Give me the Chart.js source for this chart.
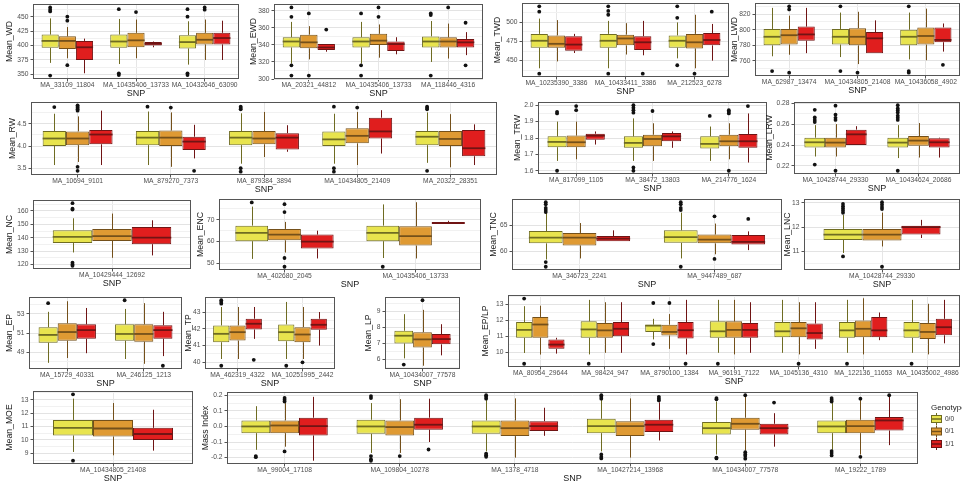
<!doctype html>
<html>
<head>
<meta charset="utf-8">
<title>SNP genotype box plots</title>
<script src="https://cdn.jsdelivr.net/npm/chart.js@4/dist/chart.umd.min.js"></script>
<style>
  body { margin: 0; background: #fff; }
  #fig { position: relative; width: 962px; height: 484px; overflow: hidden; }
</style>
</head>
<body>
<div id="fig"></div>
<script>
// ---- data: per panel, SNP names, box stats [lo, q1, median, q3, hi] (rows = genotype), outliers, y tick labels
const GENOTYPES = ['0/0', '0/1', '1/1'];

const WD_snps = ['MA_33109_11804', 'MA_10435406_13733', 'MA_10432646_63090'];
const WD_box = [
  [[370, 396, 408, 419, 447], [368, 396, 407, 419, 446], [367, 395, 406, 418, 442]],
  [[378, 394, 408, 416, 432], [378, 397, 409, 422, 445], [375, 402, 410, 422, 445]],
  [[352, 375, 397, 408, 412], [397, 400, 403, 406, 407], [375, 402, 413, 422, 443]]
];
const WD_out = [
  [[466, 462, 459, 348], [463, 352, 349], [463, 450, 352, 349]],
  [[450, 443, 366], [458], [466, 462]],
  [[], [], []]
];
const WD_ticks = ['350', '375', '400', '425', '450'];

const EWD_snps = ['MA_20321_44812', 'MA_10435406_13733', 'MA_118446_4316'];
const EWD_box = [
  [[318, 337, 344, 349, 367], [318, 337, 344, 349, 367], [320, 337, 344, 350, 368]],
  [[323, 336, 343, 352, 362], [325, 340, 345, 353, 364], [324, 337, 344, 349, 365]],
  [[332, 334, 337, 341, 341], [329, 333, 341, 344, 349], [328, 337, 343, 347, 355]]
];
const EWD_out = [
  [[384, 373, 316, 304], [377, 316, 304], [377, 375, 304]],
  [[377, 304], [384, 373], [384]],
  [[358], [], [366, 316]]
];
const EWD_ticks = ['300', '320', '340', '360', '380'];

const TWD_snps = ['MA_10235390_3386', 'MA_10433411_3386', 'MA_212523_6278'];
const TWD_box = [
  [[440, 467, 476, 485, 505], [440, 467, 476, 485, 502], [453, 467, 476, 483, 500]],
  [[449, 467, 472, 483, 503], [458, 470, 479, 484, 499], [440, 466, 474, 485, 510]],
  [[460, 463, 471, 482, 485], [457, 464, 474, 482, 502], [450, 470, 477, 486, 498]]
];
const TWD_out = [
  [[521, 514, 433], [521, 515, 510, 433], [521, 506, 444]],
  [[], [], [433]],
  [[], [433], [514]]
];
const TWD_ticks = ['450', '475', '500'];

const LWD_snps = ['MA_62987_13474', 'MA_10434805_21408', 'MA_10436058_4902'];
const LWD_box = [
  [[766, 780, 791, 801, 828], [765, 781, 791, 801, 822], [762, 780, 791, 800, 822]],
  [[768, 781, 793, 801, 818], [756, 780, 791, 802, 823], [761, 781, 792, 803, 827]],
  [[770, 786, 794, 804, 828], [770, 770, 789, 797, 812], [772, 784, 787, 803, 808]]
];
const LWD_out = [
  [[747], [830, 747], [830, 747, 745]],
  [[830, 826, 745], [745], []],
  [[], [], [755]]
];
const LWD_ticks = ['760', '780', '800', '820'];

const RW_snps = ['MA_10694_9101', 'MA_879270_7373', 'MA_879384_3894', 'MA_10434805_21409', 'MA_20322_28351'];
const RW_box = [
  [[3.57, 4.0, 4.17, 4.34, 4.73], [3.57, 4.02, 4.19, 4.34, 4.78], [3.6, 4.02, 4.19, 4.34, 4.74], [3.6, 4.0, 4.15, 4.33, 4.73], [3.62, 4.02, 4.21, 4.34, 4.76]],
  [[3.64, 4.02, 4.17, 4.33, 4.67], [3.53, 4.0, 4.19, 4.35, 4.76], [3.75, 4.04, 4.17, 4.34, 4.77], [3.57, 4.06, 4.23, 4.4, 4.77], [3.52, 4.0, 4.16, 4.34, 4.72]],
  [[3.57, 4.04, 4.26, 4.36, 4.8], [3.72, 3.91, 4.1, 4.21, 4.48], [3.87, 3.92, 4.19, 4.29, 4.47], [3.83, 4.17, 4.33, 4.64, 4.81], [3.57, 3.77, 3.95, 4.36, 4.49]]
];
const RW_out = [
  [[4.88], [4.89], [4.89, 4.86, 4.83, 3.5, 3.42], [4.89, 3.5, 3.42], [4.89, 4.86, 4.83, 3.44]],
  [[4.92, 4.89, 4.86, 4.83, 4.8, 3.53, 3.44], [4.87], [], [4.87], []],
  [[], [3.44], [], [], []]
];
const RW_ticks = ['3.5', '4.0', '4.5'];

const TRW_snps = ['MA_817099_1105', 'MA_38472_13803', 'MA_214776_1624'];
const TRW_box = [
  [[1.66, 1.744, 1.776, 1.81, 1.9], [1.66, 1.74, 1.77, 1.81, 1.92], [1.66, 1.736, 1.764, 1.81, 1.87]],
  [[1.67, 1.744, 1.774, 1.815, 1.9], [1.66, 1.75, 1.794, 1.82, 1.89], [1.67, 1.75, 1.78, 1.82, 1.89]],
  [[1.76, 1.79, 1.814, 1.826, 1.84], [1.74, 1.78, 1.81, 1.83, 1.84], [1.65, 1.74, 1.78, 1.824, 1.95]]
];
const TRW_out = [
  [[1.96, 1.95, 1.6], [2.0, 1.985, 1.97, 1.955, 1.62, 1.6], [1.935]],
  [[1.995, 1.97], [1.965], [1.97, 1.96, 1.95, 1.6]],
  [[], [], [1.995]]
];
const TRW_ticks = ['1.6', '1.7', '1.8', '1.9', '2.0'];

const LRW_snps = ['MA_10428744_29330', 'MA_10434624_20686'];
const LRW_box = [
  [[0.229, 0.2375, 0.2426, 0.247, 0.259], [0.2275, 0.2375, 0.2423, 0.247, 0.259]],
  [[0.229, 0.2375, 0.2423, 0.247, 0.26], [0.228, 0.2394, 0.2442, 0.2486, 0.261]],
  [[0.24, 0.24, 0.2502, 0.2547, 0.258], [0.228, 0.2375, 0.2426, 0.2464, 0.247]]
];
const LRW_out = [
  [[0.2736, 0.2663, 0.264, 0.262, 0.2213], [0.278, 0.275, 0.273, 0.271, 0.268, 0.266, 0.264, 0.2154]],
  [[0.2776, 0.269, 0.266, 0.264, 0.2154], []],
  [[], []]
];
const LRW_ticks = ['0.22', '0.24', '0.26', '0.28'];

const NC_snps = ['MA_10429444_12692'];
const NC_box = [[[129, 136, 140.7, 145.5, 154.5]], [[125, 137.6, 141.2, 146.5, 158]], [[126.8, 135.2, 140, 148, 153]]];
const NC_out = [[[165.8, 161.7, 161, 121.4, 120, 119]], [[]], [[]]];
const NC_ticks = ['120', '130', '140', '150', '160'];

const ENC_snps = ['MA_402680_2045', 'MA_10435406_13733'];
const ENC_box = [
  [[52.1, 60.2, 64, 67.3, 76], [52.5, 60.2, 64, 67.3, 77]],
  [[55, 60.6, 63.2, 65.8, 69], [52.3, 58.2, 62.5, 67, 78]],
  [[52.3, 56.8, 60, 63.2, 65], [68, 68, 68.5, 69, 69.5]]
];
const ENC_out = [[[77.9], [48.5]], [[77.1, 73.5, 52.5, 48.5], []], [[], []]];
const ENC_ticks = ['50', '60', '70'];

const TNC_snps = ['MA_346723_2241', 'MA_9447489_687'];
const TNC_box = [
  [[58.4, 61.5, 62.6, 63.85, 67.4], [58.6, 61.6, 62.7, 64.0, 67.4]],
  [[58.6, 61.1, 62.6, 63.5, 65.4], [59.4, 61.5, 62.2, 63.2, 65.3]],
  [[61.9, 61.9, 62.4, 62.9, 64], [60.2, 61.3, 61.8, 63.1, 63.8]]
];
const TNC_out = [[[69.4, 69, 68.3, 67.9, 67.5, 57.9, 57], [69.4, 69, 68.3, 67.9, 57]], [[], [66.7, 58.5]], [[], [66.2]]];
const TNC_ticks = ['60', '65'];

const LNC_snps = ['MA_10428744_29330'];
const LNC_box = [[[10.93, 11.47, 11.69, 11.92, 12.5]], [[11.2, 11.45, 11.69, 11.92, 12.6]], [[11.55, 11.69, 12.0, 12.06, 12.3]]];
const LNC_out = [[[12.96, 12.86, 12.77, 12.68, 12.59, 10.79]], [[13.03, 12.93, 12.83, 12.75, 10.36]], [[]]];
const LNC_ticks = ['11', '12', '13'];

const EP_snps = ['MA_15729_40331', 'MA_246125_1213'];
const EP_box = [
  [[47.9, 50.0, 50.8, 51.6, 53.2], [48.3, 50.2, 50.9, 51.9, 53.5]],
  [[48.4, 50.2, 51.1, 52.0, 54.3], [47.8, 50.1, 50.9, 51.9, 54.1]],
  [[48.9, 50.4, 51.3, 51.9, 53.6], [48.6, 50.4, 51.3, 51.8, 53.2]]
];
const EP_out = [[[54.1], [54.4]], [[], []], [[], [47.6]]];
const EP_ticks = ['49', '51', '53'];

const TP_snps = ['MA_462319_4322', 'MA_10251995_2442'];
const TP_box = [
  [[40.2, 41.2, 41.7, 42.2, 43.3], [40.2, 41.26, 41.8, 42.26, 43.6]],
  [[40.2, 41.3, 41.8, 42.2, 43.3], [40.2, 41.2, 41.66, 42.1, 43.3]],
  [[41.4, 41.96, 42.3, 42.6, 43.3], [41.0, 41.94, 42.24, 42.6, 43.0]]
];
const TP_out = [[[43.7, 43.6, 43.5, 39.8], [39.8]], [[], [40.0]], [[40.15], []]];
const TP_ticks = ['40', '41', '42', '43'];

const LP_snps = ['MA_10434007_77578'];
const LP_box = [[[6.06, 7.0, 7.48, 7.79, 8.83]], [[5.6, 6.74, 7.25, 7.7, 9.1]], [[6.25, 6.94, 7.27, 7.58, 8.2]]];
const LP_out = [[[5.67]], [[9.7]], [[]]];
const LP_ticks = ['6', '7', '8', '9'];

const EPLP_snps = ['MA_80954_29644', 'MA_98424_947', 'MA_8790100_1384', 'MA_96191_7122', 'MA_1045136_4310', 'MA_122136_11653', 'MA_10435002_4986'];
const EPLP_box = [
  [[9.94, 10.9, 11.4, 11.9, 12.9], [9.85, 10.9, 11.43, 11.94, 13.3], [10.8, 11.27, 11.67, 11.73, 12.1], [9.95, 10.9, 11.31, 11.94, 13.3], [9.95, 10.94, 11.31, 11.9, 13.3], [9.95, 10.9, 11.37, 11.9, 13.3], [9.95, 10.9, 11.37, 11.9, 13.3]],
  [[9.84, 10.9, 11.74, 12.22, 12.93], [9.95, 10.9, 11.37, 11.84, 13.15], [10.2, 11.04, 11.27, 11.73, 12.4], [9.85, 10.9, 11.4, 11.94, 13.3], [9.85, 10.94, 11.5, 11.9, 13.15], [9.85, 10.94, 11.47, 12.0, 13.4], [9.85, 10.83, 11.27, 11.84, 13.05]],
  [[9.9, 10.2, 10.47, 10.79, 10.9], [9.95, 11.0, 11.47, 11.9, 13.15], [9.85, 10.85, 11.38, 11.9, 13.3], [9.95, 10.9, 11.4, 11.84, 13.15], [10.2, 10.79, 11.2, 11.8, 13.15], [10.75, 10.94, 11.37, 12.22, 12.5], [10.55, 11.06, 11.57, 12.1, 13.3]]
];
const EPLP_out = [
  [[13.38, 9.26], [9.26], [13.1, 10.5], [9.26], [], [9.26], [9.26]],
  [[], [], [13.1], [], [9.26], [], []],
  [[], [], [9.26], [], [], [], []]
];
const EPLP_ticks = ['10', '11', '12', '13'];

const MOE_snps = ['MA_10434805_21408'];
const MOE_box = [[[9.1, 10.33, 10.9, 11.49, 13.08]], [[8.85, 10.25, 10.85, 11.49, 12.75]], [[9.2, 10.0, 10.44, 10.9, 12.25]]];
const MOE_out = [[[13.4, 8.45]], [[]], [[]]];
const MOE_ticks = ['9', '10', '11', '12', '13'];

const MI_snps = ['MA_99004_17108', 'MA_109804_10278', 'MA_1378_4718', 'MA_10427214_13968', 'MA_10434007_77578', 'MA_19222_1789'];
const MI_box = [
  [[-0.15, -0.043, 0.0, 0.0385, 0.13], [-0.17, -0.047, 0.0, 0.043, 0.15], [-0.16, -0.047, 0.0, 0.0385, 0.17], [-0.16, -0.043, 0.002, 0.049, 0.17], [-0.18, -0.051, -0.011, 0.028, 0.16], [-0.15, -0.043, 0.0, 0.0385, 0.15]],
  [[-0.13, -0.043, 0.006, 0.0385, 0.15], [-0.17, -0.058, -0.004, 0.0385, 0.175], [-0.2, -0.062, -0.011, 0.0385, 0.18], [-0.2, -0.062, 0.002, 0.034, 0.18], [-0.155, -0.021, 0.017, 0.056, 0.19], [-0.18, -0.043, 0.002, 0.043, 0.17]],
  [[-0.22, -0.058, 0.002, 0.056, 0.19], [-0.1, -0.021, 0.011, 0.056, 0.178], [-0.06, -0.03, 0.002, 0.034, 0.12], [-0.09, -0.036, 0.011, 0.043, 0.155], [-0.13, -0.051, -0.011, 0.017, 0.085], [-0.12, -0.026, 0.0385, 0.06, 0.19]]
];
const MI_out = [
  [[-0.19, -0.197], [0.195, 0.182, -0.19, -0.21, -0.22], [0.2, 0.19, 0.178, -0.175, -0.185, -0.195], [0.2, 0.19, 0.178, -0.18, -0.195, -0.205], [0.182, 0.174, -0.2, -0.205], [0.182, 0.171, 0.16, -0.158, -0.171, -0.186]],
  [[0.183, 0.171, 0.16, -0.16], [-0.19], [], [], [0.2, -0.165, -0.18, -0.19, -0.207], [0.178, -0.195]],
  [[], [-0.148], [], [0.19, 0.178, 0.167], [0.153], [0.2]]
];
const MI_ticks = ['-0.2', '-0.1', '0.0', '0.1', '0.2'];

// ---- look
const FILL = ['#E8E44E', '#DF9A33', '#E01E1E'];
const EDGE = ['#6f6c22', '#74501a', '#701414'];
const FONT = "'Liberation Sans', Arial, sans-serif";
Chart.defaults.font.family = FONT;

// ---- panel placement: L = canvas left, plot = [x0, y0, x1, y1] of the panel frame
const PANELS = [
  { title: 'Mean_WD', snps: WD_snps, box: WD_box, out: WD_out, ticks: WD_ticks, L: 0, plot: [33, 4, 239, 79] },
  { title: 'Mean_EWD', snps: EWD_snps, box: EWD_box, out: EWD_out, ticks: EWD_ticks, L: 244, plot: [274, 4, 483, 79] },
  { title: 'Mean_TWD', snps: TWD_snps, box: TWD_box, out: TWD_out, ticks: TWD_ticks, L: 488, plot: [522, 3, 729, 77] },
  { title: 'Mean_LWD', snps: LWD_snps, box: LWD_box, out: LWD_out, ticks: LWD_ticks, L: 725, plot: [755, 3, 960, 76] },
  { title: 'Mean_RW', snps: RW_snps, box: RW_box, out: RW_out, ticks: RW_ticks, L: 3, plot: [31, 102, 497, 175] },
  { title: 'Mean_TRW', snps: TRW_snps, box: TRW_box, out: TRW_out, ticks: TRW_ticks, L: 508, plot: [538, 102, 767, 174] },
  { title: 'Mean_LRW', snps: LRW_snps, box: LRW_box, out: LRW_out, ticks: LRW_ticks, L: 760, plot: [794, 102, 960, 174] },
  { title: 'Mean_NC', snps: NC_snps, box: NC_box, out: NC_out, ticks: NC_ticks, L: 0, plot: [33, 200, 191, 269] },
  { title: 'Mean_ENC', snps: ENC_snps, box: ENC_box, out: ENC_out, ticks: ENC_ticks, L: 191, plot: [219, 199, 481, 270] },
  { title: 'Mean_TNC', snps: TNC_snps, box: TNC_box, out: TNC_out, ticks: TNC_ticks, L: 484, plot: [512, 199, 782, 270] },
  { title: 'Mean_LNC', snps: LNC_snps, box: LNC_box, out: LNC_out, ticks: LNC_ticks, L: 778, plot: [804, 199, 960, 270] },
  { title: 'Mean_EP', snps: EP_snps, box: EP_box, out: EP_out, ticks: EP_ticks, L: 0, plot: [29, 297, 182, 369] },
  { title: 'Mean_TP', snps: TP_snps, box: TP_box, out: TP_out, ticks: TP_ticks, L: 179, plot: [205, 297, 335, 369] },
  { title: 'Mean_LP', snps: LP_snps, box: LP_box, out: LP_out, ticks: LP_ticks, L: 359, plot: [385, 297, 460, 369] },
  { title: 'Mean_EP/LP', snps: EPLP_snps, box: EPLP_box, out: EPLP_out, ticks: EPLP_ticks, L: 476, plot: [508, 295, 960, 367] },
  { title: 'Mean_MOE', snps: MOE_snps, box: MOE_box, out: MOE_out, ticks: MOE_ticks, L: 0, plot: [33, 391, 193, 464] },
  { title: 'Mass Index', snps: MI_snps, box: MI_box, out: MI_out, ticks: MI_ticks, L: 196, plot: [227, 392, 918, 464], padR: 44, legend: true }
];

// whiskers under the boxes, medians / outliers / frame on top
const boxPlot = {
  id: 'boxPlot',
  beforeDatasetsDraw(chart) {
    const ctx = chart.ctx, y = chart.scales.y;
    ctx.save();
    ctx.lineWidth = 1;
    chart.data.datasets.forEach((ds, g) => {
      ctx.strokeStyle = EDGE[g];
      chart.getDatasetMeta(g).data.forEach((bar, i) => {
        const s = ds.stats[i];
        const x = Math.round(bar.x) + 0.5;
        ctx.beginPath();
        ctx.moveTo(x, y.getPixelForValue(s[4]));
        ctx.lineTo(x, y.getPixelForValue(s[3]));
        ctx.moveTo(x, y.getPixelForValue(s[1]));
        ctx.lineTo(x, y.getPixelForValue(s[0]));
        ctx.stroke();
      });
    });
    ctx.restore();
  },
  afterDatasetsDraw(chart) {
    const ctx = chart.ctx, y = chart.scales.y, a = chart.chartArea;
    ctx.save();
    chart.data.datasets.forEach((ds, g) => {
      chart.getDatasetMeta(g).data.forEach((bar, i) => {
        const s = ds.stats[i];
        const ym = y.getPixelForValue(s[2]);
        ctx.strokeStyle = EDGE[g];
        ctx.lineWidth = 1.8;
        ctx.beginPath();
        ctx.moveTo(bar.x - bar.width / 2, ym);
        ctx.lineTo(bar.x + bar.width / 2, ym);
        ctx.stroke();
        ctx.fillStyle = '#111';
        ds.outliers[i].forEach(v => {
          ctx.beginPath();
          ctx.arc(bar.x, y.getPixelForValue(v), 1.9, 0, Math.PI * 2);
          ctx.fill();
        });
      });
    });
    ctx.strokeStyle = '#555';
    ctx.lineWidth = 1;
    ctx.strokeRect(a.left + 0.5, a.top + 0.5, a.right - a.left - 1, a.bottom - a.top - 1);
    ctx.restore();
  },
  afterDraw(chart) {
    if (!chart.options.plugins.boxPlot.legend) return;
    const ctx = chart.ctx, a = chart.chartArea;
    const x = a.right + 13;
    ctx.save();
    ctx.fillStyle = '#222';
    ctx.font = '8px ' + FONT;
    ctx.textBaseline = 'middle';
    ctx.fillText('Genotype', x, a.top + 16);
    GENOTYPES.forEach((g, k) => {
      const yc = a.top + 27 + k * 12.5;
      ctx.strokeStyle = EDGE[k];
      ctx.lineWidth = 1;
      ctx.beginPath();
      ctx.moveTo(x + 5.5, yc - 6); ctx.lineTo(x + 5.5, yc + 6);
      ctx.stroke();
      ctx.fillStyle = FILL[k];
      ctx.fillRect(x + 0.5, yc - 3.5, 10, 7);
      ctx.strokeRect(x + 0.5, yc - 3.5, 10, 7);
      ctx.lineWidth = 1.5;
      ctx.beginPath();
      ctx.moveTo(x + 0.5, yc); ctx.lineTo(x + 10.5, yc);
      ctx.stroke();
      ctx.fillStyle = '#333';
      ctx.font = '6.5px ' + FONT;
      ctx.fillText(g, x + 14, yc);
    });
    ctx.restore();
  }
};

const fig = document.getElementById('fig');
const PT = 8, XH = 20;

PANELS.forEach(p => {
  const [x0, y0, x1, y1] = p.plot;
  const padR = p.padR || 1;
  const w = x1 + padR - p.L, h = y1 - y0 + PT + XH;
  const div = document.createElement('div');
  div.style.cssText = 'position:absolute;left:' + p.L + 'px;top:' + (y0 - PT) + 'px;width:' + w + 'px;height:' + h + 'px';
  const cv = document.createElement('canvas');
  cv.width = w; cv.height = h;
  cv.style.width = w + 'px'; cv.style.height = h + 'px';
  div.appendChild(cv);
  fig.appendChild(div);

  // ggplot-like limits: data range + 5%
  const vals = p.box.flat(2).concat(p.out.flat(2));
  const lo = Math.min(...vals), hi = Math.max(...vals), ex = (hi - lo) * 0.05;
  const yMin = lo - ex, yMax = hi + ex;

  // major ticks from labels, minor grid lines half way
  const major = p.ticks.map(Number);
  const half = (major[1] - major[0]) / 2;
  const tickObjs = [];
  let v = major[0] - half * Math.floor((major[0] - yMin) / half);
  for (; v <= yMax + 1e-9; v += half) {
    const k = major.findIndex(m => Math.abs(m - v) < half * 1e-3);
    tickObjs.push({ value: v, isMajor: k >= 0, lbl: k >= 0 ? p.ticks[k] : '' });
  }

  new Chart(cv, {
    type: 'bar',
    data: {
      labels: p.snps,
      datasets: GENOTYPES.map((g, k) => ({
        label: g,
        data: p.box[k].map(s => [s[1], s[3]]),
        stats: p.box[k],
        outliers: p.out[k],
        backgroundColor: FILL[k],
        borderColor: EDGE[k],
        borderWidth: 1,
        borderSkipped: false,
        categoryPercentage: 0.75,
        barPercentage: 1
      }))
    },
    options: {
      responsive: false,
      animation: false,
      events: [],
      layout: { padding: { top: PT, right: padR, left: 0, bottom: 0 } },
      plugins: {
        legend: { display: false },
        tooltip: { enabled: false },
        boxPlot: { legend: !!p.legend }
      },
      scales: {
        x: {
          grid: { offset: false, color: '#e6e6e6', tickColor: '#555', tickLength: 2.5 },
          border: { display: false },
          ticks: { autoSkip: false, maxRotation: 0, padding: 0, color: '#4d4d4d', font: { size: 6.7 } },
          title: { display: true, text: 'SNP', color: '#1a1a1a', font: { size: 9 }, padding: { top: 2, bottom: 0 } },
          afterFit: s => { s.height = XH; }
        },
        y: {
          min: yMin,
          max: yMax,
          afterBuildTicks: s => { s.ticks = tickObjs.map(t => Object.assign({}, t)); },
          grid: {
            color: c => (c.tick && c.tick.isMajor ? '#e3e3e3' : '#f1f1f1'),
            tickColor: c => (c.tick && c.tick.isMajor ? '#555' : 'rgba(0,0,0,0)'),
            tickLength: 2.5
          },
          border: { display: false },
          ticks: {
            autoSkip: false, padding: 2, color: '#4d4d4d', font: { size: 6.7 },
            callback: (val, i, ticks) => ticks[i].lbl
          },
          title: { display: true, text: p.title, color: '#1a1a1a', font: { size: 8.7 } },
          afterFit: s => { s.width = x0 - p.L; }
        }
      }
    },
    plugins: [boxPlot]
  });
});
</script>
</body>
</html>
